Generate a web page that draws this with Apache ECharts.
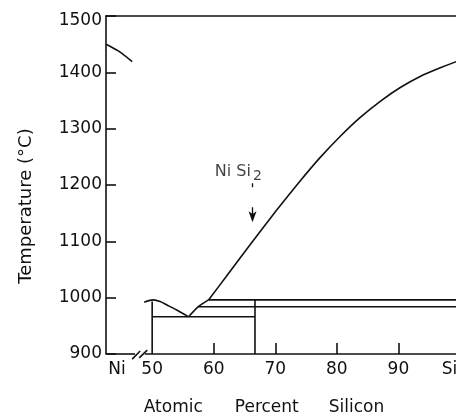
<!DOCTYPE html>
<html>
<head>
<meta charset="utf-8">
<script src="https://cdn.jsdelivr.net/npm/echarts@6/dist/echarts.min.js"></script>
<style>
  html, body { margin: 0; padding: 0; background: #fff; }
  #chart { width: 456px; height: 417px; }
</style>
</head>
<body>
<div id="chart"></div>
<script>
// values (atomic % Si, temperature in C)
const niLiquidus = [[42.5, 1450], [44.5, 1438], [46.75, 1419]];
const bumpCurve = [[48.7, 992], [50.2, 996], [51.3, 993], [52.4, 987], [54.0, 978], [55.9, 966]];
const minToPeritectic = [[55.9, 966], [57.5, 984], [59.15, 996]];
const siLiquidus = [
    [59.15, 996], [62.0, 1037], [65.9, 1094], [70.2, 1155], [74.1, 1208],
    [77.3, 1249], [80.6, 1287], [83.8, 1320], [87.1, 1349], [90.3, 1373],
    [93.6, 1393], [96.8, 1408], [99.4, 1419], [100, 1421],
];
const eutectic966 = [[50, 966], [66.7, 966]];
const line984 = [[57.5, 984], [100, 984]];
const line996 = [[59.15, 996], [100, 996]];
const nisi2Vertical = [[66.7, 996], [66.7, 900]];
const at50Vertical = [[50, 993], [50, 900]];
const baseLeft = [[42.5, 900], [47.2, 900]];
const baseRight = [[48.8, 900], [100, 900]];
const breakMark1 = [[46.75, 891], [48.05, 905.3]];
const breakMark2 = [[47.9, 893], [49.2, 907]];

const xTickValues = [60, 70, 80, 90];
const xLabelValues = [44.3, 50, 60, 70, 80, 90, 98.3];
const xLabelNames = { 44.3: "Ni", 98.3: "Si" };

const labelPoint = [[64.0, 1223]];
const arrowFrom = [66.3, 1203];
const arrowTo = [66.3, 1134];

const ink = "#111";
const font = "DejaVu Sans";

const chart = echarts.init(document.getElementById("chart"), null, { renderer: "canvas" });

function seg(data, extra) {
    return Object.assign({
        type: "line",
        data: data,
        symbol: "none",
        clip: false,
        silent: true,
        animation: false,
        lineStyle: { color: ink, width: 1.6 },
    }, extra || {});
}

const option = {
    animation: false,
    backgroundColor: "#fff",
    grid: { left: 106, right: -4, top: 16, bottom: 63, outerBoundsMode: "none" },
    xAxis: [
        {
            type: "value",
            min: 42.5,
            max: 100,
            splitLine: { show: false },
            axisLine: { show: false },
            axisTick: {
                show: true,
                inside: true,
                length: 11,
                customValues: xTickValues,
                lineStyle: { color: ink, width: 1.6 },
            },
            axisLabel: {
                customValues: xLabelValues,
                formatter: (v) => xLabelNames[v] || String(v),
                fontFamily: font,
                fontSize: 17,
                color: ink,
                margin: 7,
            },
        },
        {
            type: "value",
            position: "top",
            min: 42.5,
            max: 100,
            splitLine: { show: false },
            axisTick: { show: false },
            axisLabel: { show: false },
            axisLine: { show: true, lineStyle: { color: ink, width: 1.6 } },
        },
    ],
    yAxis: {
        type: "value",
        min: 900,
        max: 1500,
        interval: 100,
        splitLine: { show: false },
        axisLine: { show: true, lineStyle: { color: ink, width: 1.6 } },
        axisTick: { show: true, inside: true, length: 10, lineStyle: { color: ink, width: 1.6 } },
        axisLabel: {
            fontFamily: font,
            fontSize: 17,
            color: ink,
            margin: 4,
            formatter: (v) => (v === 1500 ? "{top|1500}" : String(v)),
            rich: { top: { fontFamily: font, fontSize: 17, color: ink, padding: [10, 0, 0, 0] } },
        },
    },
    graphic: [
        {
            type: "text",
            x: 26,
            y: 206,
            rotation: Math.PI / 2,
            style: {
                text: "Temperature (°C)",
                fontFamily: font,
                fontSize: 18,
                fill: ink,
                align: "center",
                verticalAlign: "middle",
            },
        },
        {
            type: "text",
            x: 264,
            y: 408,
            style: {
                text: "{w|Atomic}{g1| }{w|Percent}{g2| }{w|Silicon}",
                align: "center",
                verticalAlign: "middle",
                rich: {
                    w: { fontFamily: font, fontSize: 17, fill: ink },
                    g1: { fontFamily: font, fontSize: 17, width: 32 },
                    g2: { fontFamily: font, fontSize: 17, width: 30 },
                },
            },
        },
    ],
    series: [
        seg(niLiquidus, { smooth: 0.3 }),
        seg(bumpCurve, { smooth: 0.3 }),
        seg(minToPeritectic, { smooth: 0.2 }),
        seg(siLiquidus, { smooth: 0.2 }),
        seg(eutectic966),
        seg(line984),
        seg(line996),
        seg(nisi2Vertical),
        seg(at50Vertical),
        seg(baseLeft),
        seg(baseRight),
        seg(breakMark1),
        seg(breakMark2),
        {
            type: "scatter",
            data: labelPoint,
            symbolSize: 0,
            silent: true,
            label: {
                show: true,
                position: "inside",
                color: ink,
                textBorderWidth: 0,
                formatter: "{n|Ni Si}{s|2}",
                rich: {
                    n: { fontFamily: font, fontSize: 16, color: ink, textBorderWidth: 0 },
                    s: { fontFamily: font, fontSize: 14, color: ink, textBorderWidth: 0, padding: [9, 0, 0, 2] },
                },
            },
            markLine: {
                silent: true,
                symbol: ["none", "arrow"],
                symbolSize: [6, 11],
                label: { show: false },
                lineStyle: { color: ink, width: 1.3, type: [4, 20, 12, 4] },
                data: [[{ coord: arrowFrom }, { coord: arrowTo }]],
            },
        },
    ],
};

chart.setOption(option);
</script>
</body>
</html>
